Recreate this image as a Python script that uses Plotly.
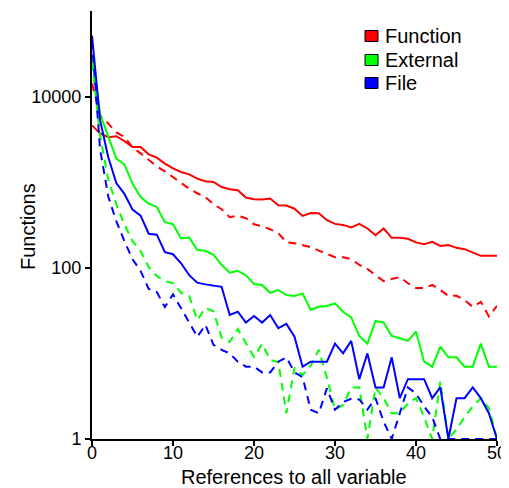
import plotly.graph_objects as go

refs = list(range(0, 51))

function_solid = [4600, 3720, 3360, 3450, 3020, 2570, 2570, 2115, 1935, 1648, 1452, 1315, 1236, 1102, 1024, 1005, 879, 826, 805, 662,
                  632, 630, 644, 538, 534, 490, 404, 437, 434, 360, 326, 317, 296, 326, 288, 240, 288, 224, 224, 218,
                  198, 189, 201, 180, 184, 171, 165, 151, 138, 138, 138]
function_dashed = [14200, 6000, 4860, 3820, 3380, 2550, 2170, 1800, 1530, 1340, 1140, 971, 838, 743, 667, 553, 483, 390, 406, 380,
                   323, 306, 282, 254, 199, 194, 184, 174, 159, 146, 133, 133, 126, 108, 97, 82, 70, 74, 78, 66,
                   58, 58, 63, 55, 47, 47, 42, 35, 40, 27, 36]
external_solid = [30100, 6300, 3430, 1884, 1617, 963, 672, 563, 514, 341, 323, 220, 226, 161, 158, 142, 108, 87.5, 92, 82,
                  64.6, 62.9, 51, 55, 48, 46.8, 50.3, 32.1, 35.1, 35.8, 38.5, 30.7, 26.3, 16, 13, 24, 23, 16, 15, 14,
                  18, 8, 7, 12, 9, 9, 7, 7, 13, 7, 7]
external_dashed = [25000, 3520, 1081, 553, 323, 205, 157, 102, 80, 70, 66, 51, 46.8, 24.6, 34, 31, 15.2, 13.6, 19.3, 13.3,
                   9.1, 12.9, 8.4, 7.9, 2, 6.8, 5.6, 7.2, 11, 5.2, 2.2, 2.5, 4, 4, 1, 4, 3, 2, 2, 2.6,
                   3, 1.8, 1, 4.7, 1, 1.3, 1.8, 2.4, 3, 2.3, 1]
file_solid = [51500, 5300, 1967, 979, 732, 479, 406, 250, 244, 152, 144, 113, 82, 67, 64, 62, 60, 28.1, 30.7, 22.9,
              27.4, 22.9, 28.1, 19.7, 22.1, 15.7, 7, 8, 8, 8, 13, 10, 14, 5, 10, 4, 4, 9, 3, 5,
              5, 5, 3, 4, 1, 3, 3, 4, 3, 2, 1]
file_dashed = [45000, 2420, 685, 350, 205, 126, 92, 56.5, 52, 34.8, 49, 34, 23, 15.6, 21.5, 12.6, 11, 10, 8, 7,
               7, 6, 6, 8, 9, 6, 5.3, 2.2, 2, 3.9, 2.2, 2.7, 2.95, 2.9, 2.2, 3, 1.6, 1, 2, 4,
               3.4, 2.4, 1.8, 1, 1, 1, 1, 1, 1, 1, 1]

legend_names = ["Function", "External", "File"]
colors = ["#ff0000", "#00ff00", "#0000ff"]
y_tick_vals = [1, 100, 10000]
y_tick_text = ["1", "100", "10000"]
x_tick_vals = [0, 10, 20, 30, 40, 50]
x_title = "References to all variable"
y_title = "Functions"

FONT = "Liberation Sans, Arial, sans-serif"

# The page body adds an 8px margin; lay the figure out so that
# on-screen positions match a 509x488 window.
OFF = 8
W, H = 509 - OFF, 488 - OFF
PLOT_L, PLOT_R, PLOT_T, PLOT_B = 92, 497, 11, 439  # on-screen pixels
ML, MT = PLOT_L - OFF, PLOT_T - OFF
MR, MB = W - (PLOT_R - OFF), H - (PLOT_B - OFF)
PW, PH = PLOT_R - PLOT_L, PLOT_B - PLOT_T


def px_to_paper_x(px):
    return (px - PLOT_L) / PW


def px_to_paper_y(py):
    return (PLOT_B - py) / PH


fig = go.Figure()
series = [
    (function_solid, function_dashed, colors[0], legend_names[0]),
    (external_solid, external_dashed, colors[1], legend_names[1]),
    (file_solid, file_dashed, colors[2], legend_names[2]),
]
for solid, dashed, c, nm in series:
    fig.add_trace(go.Scatter(x=refs, y=solid, mode="lines", name=nm, line=dict(color=c, width=2),
                             showlegend=False, hoverinfo="skip"))
    fig.add_trace(go.Scatter(x=refs, y=dashed, mode="lines", name=nm, line=dict(color=c, width=2, dash="8px,6px"),
                             showlegend=False, hoverinfo="skip"))

# legend drawn as boxes + text
shapes = []
annotations = []
row_y = [36, 60, 83]
for name, c, ry in zip(legend_names, colors, row_y):
    shapes.append(dict(type="rect", xref="paper", yref="paper",
                       x0=px_to_paper_x(365), x1=px_to_paper_x(378),
                       y0=px_to_paper_y(ry + 5.5), y1=px_to_paper_y(ry - 5.5),
                       fillcolor=c, line=dict(color="black", width=1)))
    annotations.append(dict(xref="paper", yref="paper", x=px_to_paper_x(383), y=px_to_paper_y(ry),
                            xanchor="left", yanchor="middle", text=name, showarrow=False,
                            font=dict(size=20, family=FONT, color="black")))

annotations.append(dict(xref="paper", yref="paper", x=px_to_paper_x(294), y=px_to_paper_y(476.5),
                        xanchor="center", yanchor="middle", text=x_title, showarrow=False,
                        font=dict(size=20, family=FONT, color="black")))
annotations.append(dict(xref="paper", yref="paper", x=px_to_paper_x(28), y=px_to_paper_y(227),
                        xanchor="center", yanchor="middle", text=y_title, showarrow=False, textangle=-90,
                        font=dict(size=20, family=FONT, color="black")))

fig.update_layout(
    width=W, height=H,
    margin=dict(l=ML, r=MR, t=MT, b=MB, autoexpand=False),
    paper_bgcolor="white", plot_bgcolor="white",
    font=dict(family=FONT, size=18, color="black"),
    showlegend=False,
    shapes=shapes,
    annotations=annotations,
)
fig.update_xaxes(range=[0, 50], tickvals=x_tick_vals, showline=True, linecolor="black", linewidth=2,
                 ticks="outside", ticklen=5, tickwidth=2, tickcolor="black", showgrid=False, zeroline=False,
                 automargin=False, ticklabelstandoff=-9, tickfont=dict(size=18))
fig.update_yaxes(type="log", range=[0, 5], tickvals=y_tick_vals, ticktext=y_tick_text, showline=True,
                 linecolor="black", linewidth=2, ticks="outside", ticklen=5, tickwidth=2, tickcolor="black",
                 showgrid=False, zeroline=False, automargin=False, tickfont=dict(size=18))

fig.write_html("out.html")
